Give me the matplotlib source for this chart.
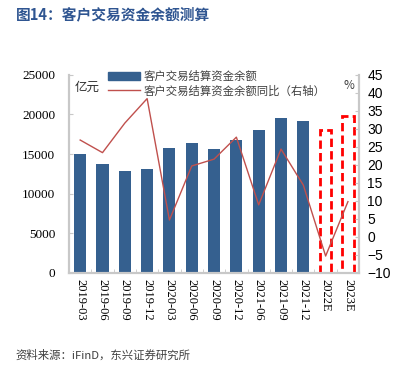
import matplotlib.pyplot as plt
from matplotlib.patches import Patch
from matplotlib.lines import Line2D

plt.rcParams['font.family'] = ['Noto Sans CJK SC', 'DejaVu Sans']

categories = ["2019-03", "2019-06", "2019-09", "2019-12", "2020-03", "2020-06",
              "2020-09", "2020-12", "2021-06", "2021-09", "2021-12", "2022E", "2023E"]
balance = [15000, 13800, 12900, 13100, 15800, 16400, 15700, 16750, 18000, 19500, 19200]
forecast = [18050, 19800]
yoy = [26.9, 23.4, 31.6, 38.4, 4.7, 19.7, 21.6, 27.7, 8.9, 24.4, 14.4, -5.3, 9.8]

bar_color = "#35608f"
line_color = "#c0504d"
spine_color = "#c8c8c8"

fig = plt.figure(figsize=(3.99, 3.76), dpi=100)
ax = fig.add_axes([0.173, 0.274, 0.727, 0.527])
ax2 = ax.twinx()

x = list(range(len(categories)))
ax.bar(x[:len(balance)], balance, width=0.54, color=bar_color, zorder=2)
nb = len(balance)
ax.bar(x[nb:], forecast, width=0.5, facecolor="none", edgecolor="#ff0000",
       linestyle=(0, (3, 1.5)), linewidth=2, zorder=2)
ax2.plot(x, yoy, color=line_color, linewidth=1.0, zorder=3)

ax.set_xlim(-0.5, len(categories) - 0.5)
ax.set_ylim(0, 25000)
ax2.set_ylim(-10, 45)
ax.set_yticks(range(0, 25001, 5000))
ax2.set_yticks(range(-10, 46, 5))

ax.set_xticks(x)
ax.set_xticklabels(categories, rotation=270, family="Liberation Serif", fontsize=9)
ax.tick_params(axis="x", length=0, pad=4)
ax.set_xticks([i + 0.5 for i in x[:-1]], minor=True)
ax.tick_params(axis="x", which="minor", length=3, direction="in", color=spine_color)
for lab in ax.get_yticklabels():
    lab.set_family("Liberation Serif")
ax.tick_params(axis="y", labelsize=9.5, length=3, direction="in", color=spine_color, pad=10)
for lab in ax2.get_yticklabels():
    lab.set_family("Liberation Sans")
ax2.tick_params(axis="y", labelsize=10, length=3, direction="in", color=spine_color, pad=6)

for a in (ax, ax2):
    a.spines["top"].set_visible(False)
    for side in ("left", "right", "bottom"):
        a.spines[side].set_color(spine_color)
        a.spines[side].set_linewidth(1.5)

ax.text(0.02, 0.92, "亿元", transform=ax.transAxes, fontsize=9, style="italic",
        color="#303030")
ax2.text(0.945, 0.93, "%", transform=ax2.transAxes, fontsize=8.5, color="#404040")

handles = [Patch(facecolor=bar_color, edgecolor=bar_color),
           Line2D([0], [0], color=line_color, linewidth=1.0)]
labels = ["客户交易结算资金余额", "客户交易结算资金余额同比（右轴）"]
leg = ax2.legend(handles, labels, loc="upper left", bbox_to_anchor=(0.12, 1.045),
                 frameon=False, fontsize=8.2, handlelength=2.8, handletextpad=0.3,
                 labelspacing=0.3, borderaxespad=0, handleheight=0.7)
for t in leg.get_texts():
    t.set_color("#404040")

fig.text(0.04, 0.962, "图14：客户交易资金余额测算", fontsize=10.6, weight="bold",
         color="#2f5591", va="center")
fig.text(0.04, 0.055, "资料来源：iFinD，东兴证券研究所", fontsize=8.2, style="italic",
         color="#404040", va="center")

fig.savefig("out.png", dpi=100)
